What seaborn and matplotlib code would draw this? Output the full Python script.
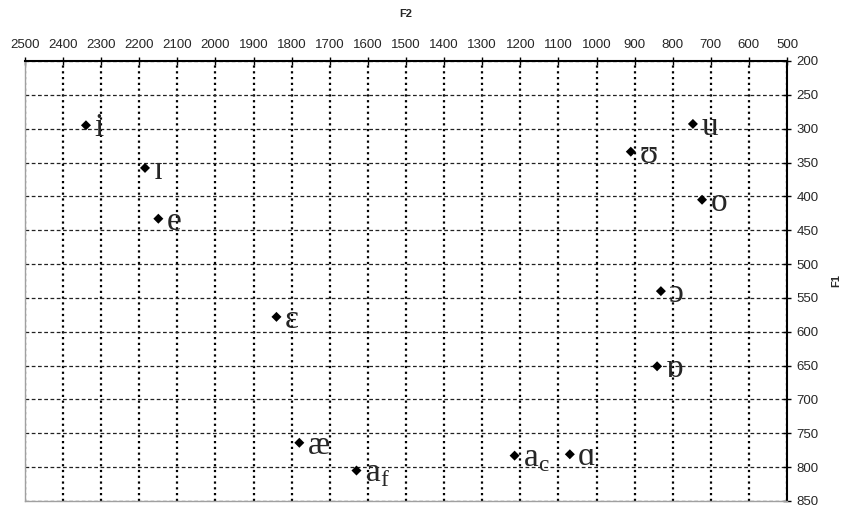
import pandas as pd
import matplotlib.pyplot as plt
import seaborn as sns

# vowel formant values (Hz)
vowels = ['i', 'ɪ', 'e', 'ɛ', 'æ', r'a$_\mathregular{f}$', r'a$_\mathregular{c}$',
          'ɑ', 'ɒ', 'ɔ', 'o', 'u', 'ʊ']
f2 = [2340, 2185, 2150, 1840, 1780, 1630, 1215, 1070, 841, 831, 723, 747, 910]
f1 = [295, 358, 433, 578, 764, 805, 783, 781, 651, 540, 405, 293, 334]

f2_ticks = list(range(500, 2501, 100))
f1_ticks = list(range(200, 851, 50))

df = pd.DataFrame({'vowel': vowels, 'F2': f2, 'F1': f1})

sns.set_style('white')
plt.rcParams['font.family'] = ['Liberation Sans', 'DejaVu Sans']

fig = plt.figure(figsize=(8.5, 5.19), dpi=100)
ax = fig.add_axes([0.0294, 0.0347, 0.8965, 0.8478])

sns.scatterplot(data=df, x='F2', y='F1', marker='D', s=26, color='black',
                edgecolor='none', ax=ax, zorder=3)

for _, row in df.iterrows():
    ax.annotate(row['vowel'], (row['F2'], row['F1']), xytext=(6, -8),
                textcoords='offset points', ha='left', va='baseline',
                fontsize=24, family=['Liberation Serif', 'DejaVu Serif'])

ax.set_xlim(2500, 500)
ax.set_ylim(850, 200)
ax.set_xticks(f2_ticks)
ax.set_yticks(f1_ticks)
ax.xaxis.tick_top()
ax.xaxis.set_label_position('top')
ax.yaxis.tick_right()
ax.yaxis.set_label_position('right')
ax.tick_params(direction='inout', length=6, width=1, color='black',
               labelsize=9.5, pad=4)
ax.set_xlabel('F2', fontsize=8, fontweight='bold', labelpad=16)
ax.set_ylabel('F1', fontsize=8, fontweight='bold', labelpad=9, rotation=90)

ax.grid(axis='x', linestyle=(0, (1, 1.6)), linewidth=1.6, color='black')
ax.grid(axis='y', linestyle=(0, (3, 2)), linewidth=0.9, color='#222222')

for side in ['top', 'right']:
    ax.spines[side].set_color('black')
    ax.spines[side].set_linewidth(1.5)
for side in ['left', 'bottom']:
    ax.spines[side].set_color('#a0a0a0')
    ax.spines[side].set_linewidth(1)

plt.savefig('out.png', dpi=100)
